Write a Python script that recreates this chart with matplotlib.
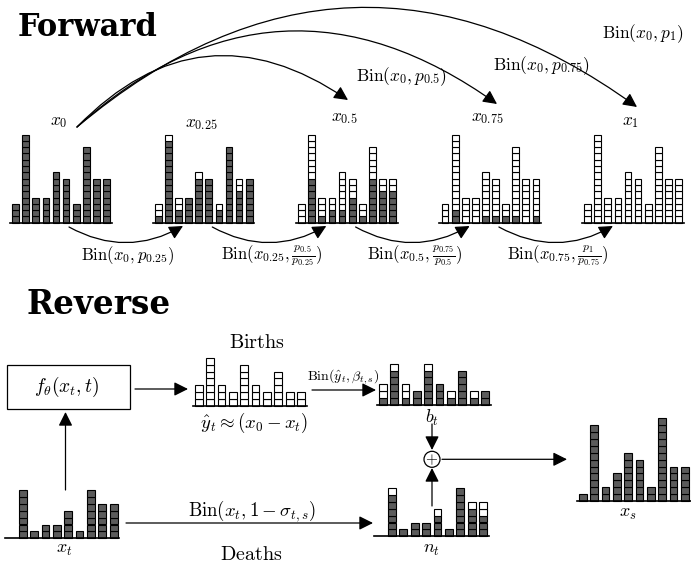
import numpy as np
from matplotlib import pyplot as plt
from matplotlib.patches import Rectangle, Circle

plt.rcParams['mathtext.fontset'] = 'cm'

# counts per bin (10 bins)
x_0 = [3, 14, 4, 4, 8, 7, 3, 12, 7, 7]
fwd_labels = ['0', '0.25', '0.5', '0.75', '1']
fwd_kept = [
    [3, 14, 4, 4, 8, 7, 3, 12, 7, 7],
    [1, 13, 2, 4, 7, 7, 2, 12, 5, 7],
    [0, 7, 1, 2, 2, 4, 1, 7, 5, 5],
    [0, 2, 0, 0, 1, 1, 1, 1, 0, 1],
    [0, 0, 0, 0, 0, 0, 0, 0, 0, 0],
]
x_t = [0, 7, 1, 2, 2, 4, 1, 7, 5, 5]
n_t = [0, 6, 1, 2, 2, 3, 1, 7, 4, 3]
y_hat = [3, 7, 3, 2, 6, 3, 2, 5, 2, 2]
b_t_total = [3, 6, 3, 2, 6, 3, 2, 5, 2, 2]
b_t = [1, 5, 1, 2, 5, 3, 1, 5, 1, 2]
x_s = [1, 11, 2, 4, 7, 6, 2, 12, 5, 5]

DARK = '#5b5b5b'

fig = plt.figure(figsize=(6.91, 5.71), dpi=100)
ax = fig.add_axes([0, 0, 1, 1])
ax.set_xlim(0, 691)
ax.set_ylim(571, 0)
ax.axis('off')


def cells(left, base, totals, kept, w, h, gap):
    totals = np.array(totals)
    kept = np.array(kept)
    pos = left + np.arange(len(totals)) * gap + w / 2
    for k in range(totals.max()):
        on = totals > k
        fc = np.where(kept > k, DARK, 'white')[on]
        ax.bar(pos[on], h, width=w, bottom=base - (k + 1) * h,
               color=fc, edgecolor='k', linewidth=0.8)
    ax.plot([left - 2.3, pos[-1] + w / 2 + 1.8], [base, base], color='k', lw=1.2)


def arrow(p0, p1, rad=0.0, lw=0.9):
    ax.annotate('', xy=p1, xytext=p0,
                arrowprops=dict(arrowstyle='-|>,head_length=0.8,head_width=0.4',
                                mutation_scale=10.5, color='k', lw=lw,
                                shrinkA=0, shrinkB=0,
                                connectionstyle='arc3,rad=%g' % rad))


def tex(x, y, s, size=12.5, **kw):
    ax.text(x, y, s, fontsize=size, ha='center', va='center', **kw)


def title(x, y, s, size=22):
    ax.text(x, y, s, fontsize=size, ha='center', va='center',
            family='DejaVu Serif', weight='bold')


# ---- forward process ----
title(88, 27, 'Forward')
fwd_left = [12.3, 155.0, 298.3, 441.7, 584.3]
label_y = [121, 123, 117, 117, 121]
for i, (t, kept) in enumerate(zip(fwd_labels, fwd_kept)):
    cells(fwd_left[i], 222.7, x_0, kept, 6.7, 6.3, 10.1)
    tex(fwd_left[i] + 46, label_y[i], r'$x_{%s}$' % t)

# jumps straight from x_0
arrow((77, 127), (348, 100), rad=-0.42)
arrow((77, 127), (497, 104), rad=-0.40)
arrow((77, 127), (637, 107), rad=-0.39)
tex(401, 77, r'$\mathrm{Bin}(x_0, p_{0.5})$')
tex(541, 66, r'$\mathrm{Bin}(x_0, p_{0.75})$')
tex(643, 34, r'$\mathrm{Bin}(x_0, p_1)$')

# step-by-step thinning
step_labels = [r'$\mathrm{Bin}(x_0, p_{0.25})$',
               r'$\mathrm{Bin}(x_{0.25}, \frac{p_{0.5}}{p_{0.25}})$',
               r'$\mathrm{Bin}(x_{0.5}, \frac{p_{0.75}}{p_{0.5}})$',
               r'$\mathrm{Bin}(x_{0.75}, \frac{p_1}{p_{0.75}})$']
for i, s in enumerate(step_labels):
    dx = 143.3 * i
    arrow((69 + dx, 227), (183 + dx, 226), rad=0.28)
    tex(128 + dx, 256, s, size=12)

# ---- reverse process ----
title(99, 305, 'Reverse', size=23.5)

ax.add_patch(Rectangle((7.3, 365), 122.7, 44.3, fill=False, ec='k', lw=0.9))
tex(67, 387, r'$f_\theta(x_t, t)$', size=14)
arrow((135, 389), (188, 389))
arrow((65.5, 490), (65.5, 412))

cells(195, 406, y_hat, [0] * 10, 7.7, 6.9, 11.35)
tex(257, 343, r'$\mathrm{Births}$', size=14.5)
tex(254, 423, r'$\hat{y}_t \approx (x_0 - x_t)$', size=13.5)

arrow((312, 390), (376, 390))
tex(343, 377, r'$\mathrm{Bin}(\hat{y}_t, \beta_{t,s})$', size=10)

cells(379, 405, b_t_total, b_t, 7.7, 6.9, 11.35)
tex(432, 418, r'$b_t$', size=13)
arrow((432, 424), (432, 450))

ax.add_patch(Circle((432, 459.3), 8, fill=False, ec='k', lw=0.9))
tex(432, 459.3, r'$+$', size=11)
arrow((442, 459.3), (567, 459.3))

cells(579, 501, x_s, x_s, 7.7, 6.9, 11.35)
tex(628, 513, r'$x_s$', size=13)

cells(7.7, 538.3, x_t, x_t, 7.7, 6.9, 11.35)
tex(64, 549, r'$x_t$', size=13)
arrow((126, 523), (373, 523))
tex(252, 511, r'$\mathrm{Bin}(x_t, 1 - \sigma_{t,s})$', size=13.5)
tex(251, 555, r'$\mathrm{Deaths}$', size=14.5)

cells(376.7, 536.3, x_t, n_t, 7.7, 6.9, 11.4)
tex(432, 549, r'$n_t$', size=13)
arrow((432, 506), (432, 468))

fig.savefig('out.png', dpi=100)
